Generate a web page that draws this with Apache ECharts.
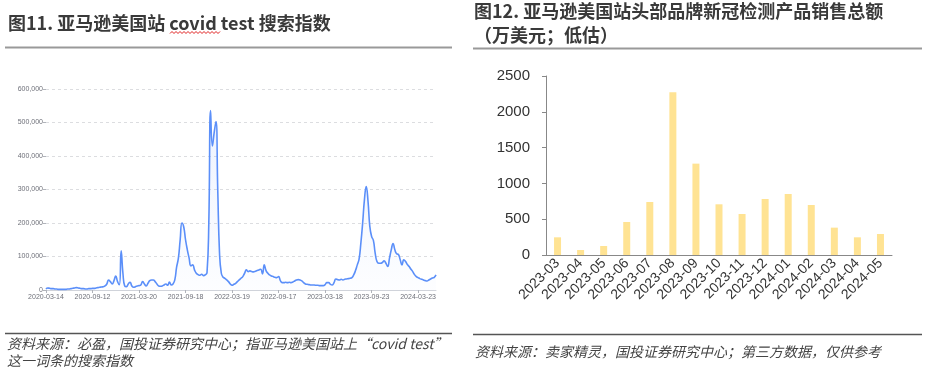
<!DOCTYPE html>
<html>
<head>
<meta charset="utf-8">
<script src="https://cdn.jsdelivr.net/npm/echarts@6/dist/echarts.min.js"></script>
<style>
  html, body { margin: 0; padding: 0; background: #fff; }
  #main { width: 925px; height: 376px; }
</style>
</head>
<body>
<div id="main"></div>
<script>
// 图11 数据：亚马逊美国站 "covid test" 周度搜索指数
const tickDates = ['2020-03-14', '2020-09-12', '2021-03-20', '2021-09-18', '2022-03-19',
                   '2022-09-17', '2023-03-18', '2023-09-23', '2024-03-23'];
const searchIndex = [
  3000, 6000, 5000, 4000, 4000, 3000, 3000, 2000, 2000, 2000,
  2000, 2000, 3000, 3000, 4000, 5000, 6000, 7000, 6000, 5000,
  4000, 4000, 3000, 3000, 4000, 4000, 5000, 5000, 6000, 7000,
  8000, 9000, 10000, 12000, 18000, 30000, 25000, 18000, 28000, 42000,
  25000, 16000, 117000, 50000, 12000, 10000, 18000, 23000, 12000, 8000,
  10000, 12000, 13000, 15000, 25000, 18000, 12000, 20000, 28000, 30000,
  30000, 25000, 18000, 12000, 11000, 12000, 15000, 18000, 14000, 24000,
  15000, 18000, 30000, 68000, 95000, 150000, 200000, 188000, 150000, 120000,
  95000, 72000, 75000, 60000, 50000, 46000, 44000, 47000, 43000, 45000,
  52000, 200000, 536000, 430000, 470000, 503000, 300000, 110000, 50000, 38000,
  35000, 30000, 25000, 18000, 14000, 17000, 20000, 25000, 30000, 35000,
  40000, 50000, 60000, 55000, 57000, 55000, 54000, 56000, 58000, 60000,
  62000, 48000, 75000, 58000, 50000, 45000, 42000, 40000, 38000, 37000,
  40000, 28000, 22000, 22000, 23000, 22000, 23000, 22000, 24000, 27000,
  30000, 31000, 30000, 27000, 22000, 18000, 17000, 16000, 15000, 15000,
  15000, 14000, 14000, 13000, 13000, 13000, 16000, 22000, 22000, 17000,
  15000, 22000, 33000, 31000, 30000, 32000, 30000, 32000, 33000, 34000,
  35000, 37000, 45000, 58000, 75000, 92000, 140000, 200000, 270000, 309000,
  265000, 190000, 160000, 148000, 110000, 85000, 80000, 80000, 82000, 87000,
  80000, 70000, 95000, 120000, 139000, 120000, 108000, 106000, 90000, 75000,
  90000, 85000, 76000, 70000, 62000, 55000, 46000, 40000, 37000, 34000,
  32000, 30000, 28000, 27000, 30000, 33000, 36000, 38000, 45000
];

// 图12 数据：头部品牌新冠检测产品销售总额（万美元）
const months = ['2023-03', '2023-04', '2023-05', '2023-06', '2023-07', '2023-08', '2023-09', '2023-10',
                '2023-11', '2023-12', '2024-01', '2024-02', '2024-03', '2024-04', '2024-05'];
const sales = [247, 70, 126, 461, 740, 2272, 1276, 708, 573, 782, 852, 698, 382, 247, 293];

// 周度日期：每个刻度日期之后按 7 天递增 26 周
const weekDates = [];
tickDates.forEach(d => {
  const t0 = new Date(d + 'T00:00:00Z').getTime();
  for (let j = 0; j < 26 && weekDates.length < searchIndex.length; j++) {
    weekDates.push(new Date(t0 + j * 7 * 864e5).toISOString().slice(0, 10));
  }
});

const cjk = '"Noto Sans CJK SC", "Liberation Sans", sans-serif';
const sans = '"Liberation Sans", Arial, sans-serif';

// "covid" 下的红色波浪线
const wavy = [];
for (let x = 170; x <= 220; x += 2) wavy.push([x, (x / 2) % 2 === 0 ? 31.5 : 33.5]);

let chart = echarts.init(document.getElementById('main'));

let option = {
  animation: false,
  backgroundColor: '#fff',
  grid: [
    { left: 46, top: 89, width: 390, height: 201 },
    { left: 546, top: 76, width: 346, height: 179 }
  ],
  xAxis: [
    {
      gridIndex: 0,
      type: 'category',
      data: weekDates,
      boundaryGap: false,
      axisLine: { lineStyle: { color: '#d0d3da', width: 1 } },
      axisTick: { interval: 25, length: 3, lineStyle: { color: '#b0b3ba' } },
      axisLabel: { interval: 25, fontSize: 7, color: '#6e7079', margin: 4, fontFamily: sans }
    },
    {
      gridIndex: 1,
      type: 'category',
      data: months,
      axisLine: { lineStyle: { color: '#888', width: 1 } },
      axisTick: { length: 5, lineStyle: { color: '#888' } },
      axisLabel: { interval: 0, rotate: 45, fontSize: 14, color: '#333', margin: 6, fontFamily: sans }
    }
  ],
  yAxis: [
    {
      gridIndex: 0,
      type: 'value',
      min: 0, max: 600000, interval: 100000,
      axisLine: { show: false },
      axisTick: { show: true, length: 3, lineStyle: { color: '#b0b3ba' } },
      axisLabel: {
        fontSize: 7, color: '#6e7079', margin: 3, fontFamily: sans,
        formatter: v => String(v).replace(/\B(?=(\d{3})+(?!\d))/g, ',')
      },
      splitLine: { lineStyle: { color: '#dcdde0', type: [3, 3] } }
    },
    {
      gridIndex: 1,
      type: 'value',
      min: 0, max: 2500, interval: 500,
      axisLine: { show: true, lineStyle: { color: '#888' } },
      axisTick: { show: true, length: 4, lineStyle: { color: '#888' } },
      axisLabel: { fontSize: 15, color: '#333', margin: 16, fontFamily: sans, formatter: v => String(v) },
      splitLine: { show: false }
    }
  ],
  series: [
    {
      name: '搜索指数',
      type: 'line',
      xAxisIndex: 0, yAxisIndex: 0,
      data: searchIndex,
      smooth: true,
      showSymbol: false,
      lineStyle: { color: '#5b8ff9', width: 1.6 },
      areaStyle: {
        color: new echarts.graphic.LinearGradient(0, 0, 0, 1, [
          { offset: 0, color: 'rgba(91,143,249,0.16)' },
          { offset: 1, color: 'rgba(91,143,249,0.02)' }
        ])
      }
    },
    {
      name: '销售总额',
      type: 'bar',
      xAxisIndex: 1, yAxisIndex: 1,
      data: sales,
      barWidth: 7,
      itemStyle: { color: '#ffe393' }
    }
  ],
  graphic: [
    // 左侧标题
    { type: 'text', left: 8, top: 14, style: { text: '图11. 亚马逊美国站 covid test 搜索指数', font: 'bold 18px ' + cjk, fill: '#3a3a3a' } },
    { type: 'polyline', shape: { points: wavy }, style: { stroke: '#e02020', lineWidth: 1, fill: null } },
    { type: 'line', shape: { x1: 5, y1: 47.5, x2: 452, y2: 47.5 }, style: { stroke: '#999', lineWidth: 2 } },
    // 右侧标题
    { type: 'text', left: 474, top: 2, style: { text: '图12. 亚马逊美国站头部品牌新冠检测产品销售总额', font: 'bold 18px ' + cjk, fill: '#3a3a3a' } },
    { type: 'text', left: 474, top: 26, style: { text: '（万美元；低估）', font: 'bold 18px ' + cjk, fill: '#3a3a3a' } },
    { type: 'line', shape: { x1: 473, y1: 48.5, x2: 922, y2: 48.5 }, style: { stroke: '#999', lineWidth: 2 } },
    // 左侧资料来源
    { type: 'line', shape: { x1: 5, y1: 333.5, x2: 452, y2: 333.5 }, style: { stroke: '#555', lineWidth: 1.5 } },
    { type: 'text', left: 7, top: 337, style: { text: '资料来源：必盈，国投证券研究中心；指亚马逊美国站上“covid test”', font: 'italic 14px ' + cjk, fill: '#444' } },
    { type: 'text', left: 7, top: 354, style: { text: '这一词条的搜索指数', font: 'italic 14px ' + cjk, fill: '#444' } },
    // 右侧资料来源
    { type: 'line', shape: { x1: 473, y1: 334.5, x2: 922, y2: 334.5 }, style: { stroke: '#555', lineWidth: 1.5 } },
    { type: 'text', left: 475, top: 345, style: { text: '资料来源：卖家精灵，国投证券研究中心；第三方数据，仅供参考', font: 'italic 14px ' + cjk, fill: '#444' } }
  ]
};

chart.setOption(option);
</script>
</body>
</html>
